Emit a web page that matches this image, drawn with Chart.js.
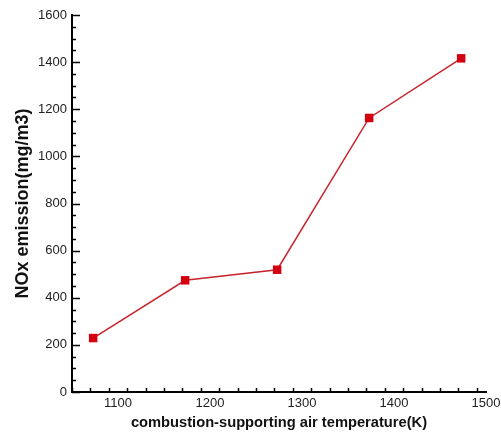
<!DOCTYPE html>
<html>
<head>
<meta charset="utf-8">
<script src="https://cdn.jsdelivr.net/npm/chart.js@4.4.0/dist/chart.umd.min.js"></script>
<style>
  html, body { margin: 0; padding: 0; background: #fff; }
  #wrap { width: 501px; height: 435px; }
</style>
</head>
<body>
<div id="wrap"><canvas id="noxChart" width="501" height="435"></canvas></div>
<script>
// air temperature (K) and NOx emission (mg/m3)
const temperatures = [1073, 1173, 1273, 1373, 1473];
const noxValues = [229, 474, 519, 1163, 1416];
const xTicks = [1100, 1200, 1300, 1400, 1500];
const yTicks = [0, 200, 400, 600, 800, 1000, 1200, 1400, 1600];

// ticks drawn inward, like the original plot
const inwardTicks = {
    id: "inwardTicks",
    afterDraw(chart) {
        const ctx = chart.ctx;
        const x = chart.scales.x, y = chart.scales.y;
        const left = chart.chartArea.left, bottom = chart.chartArea.bottom;
        ctx.save();
        ctx.strokeStyle = "#000";
        ctx.lineWidth = 1.5;
        ctx.beginPath();
        for (let v = x.min; v <= x.max; v += 20) {
            const px = Math.round(x.getPixelForValue(v)) + 0.5;
            const len = xTicks.includes(v) ? 8 : 4;
            ctx.moveTo(px, bottom);
            ctx.lineTo(px, bottom - len);
        }
        for (let v = y.min; v <= y.max; v += 50) {
            const py = Math.round(y.getPixelForValue(v)) + 0.5;
            const len = yTicks.includes(v) ? 8 : 4;
            ctx.moveTo(left, py);
            ctx.lineTo(left + len, py);
        }
        ctx.stroke();
        ctx.restore();
    }
};

document.addEventListener("DOMContentLoaded", function () {
    const ctx = document.getElementById("noxChart").getContext("2d");
    new Chart(ctx, {
        type: "line",
        data: {
            datasets: [{
                label: "NOx",
                data: temperatures.map((t, i) => ({ x: t, y: noxValues[i] })),
                borderColor: "#c8242c",
                backgroundColor: "#d40010",
                borderWidth: 1.5,
                pointStyle: "rect",
                pointRadius: 6,
                pointBorderWidth: 0,
                tension: 0
            }]
        },
        options: {
            responsive: false,
            animation: false,
            layout: { padding: { top: 15, right: 15, left: 0, bottom: 0 } },
            plugins: {
                legend: { display: false },
                tooltip: { enabled: false }
            },
            scales: {
                x: {
                    type: "linear",
                    min: 1050,
                    max: 1500,
                    afterBuildTicks: (s) => { s.ticks = xTicks.map(v => ({ value: v })); },
                    afterFit: (s) => { s.height = 43; s.paddingRight = 0; },
                    grid: { display: true, drawOnChartArea: false, drawTicks: false },
                    border: { color: "#000", width: 2 },
                    ticks: {
                        padding: 4,
                        color: "#222",
                        callback: (v) => String(v),
                        font: { family: "Liberation Sans", size: 13 }
                    },
                    title: {
                        display: true,
                        text: "combustion-supporting air temperature(K)",
                        color: "#111",
                        padding: { top: 0, bottom: 3 },
                        font: { family: "Liberation Sans", size: 14.7, weight: "bold" }
                    }
                },
                y: {
                    min: 0,
                    max: 1600,
                    afterBuildTicks: (s) => { s.ticks = yTicks.map(v => ({ value: v })); },
                    afterFit: (s) => { s.width = 72; },
                    grid: { display: true, drawOnChartArea: false, drawTicks: false },
                    border: { color: "#000", width: 2 },
                    ticks: {
                        padding: 5,
                        color: "#222",
                        callback: (v) => String(v),
                        font: { family: "Liberation Sans", size: 13 }
                    },
                    title: {
                        display: true,
                        text: "NOx emission(mg/m3)",
                        color: "#111",
                        padding: { top: 12, bottom: 0 },
                        font: { family: "Liberation Sans", size: 18, weight: "bold" }
                    }
                }
            }
        },
        plugins: [inwardTicks]
    });
});
</script>
</body>
</html>
